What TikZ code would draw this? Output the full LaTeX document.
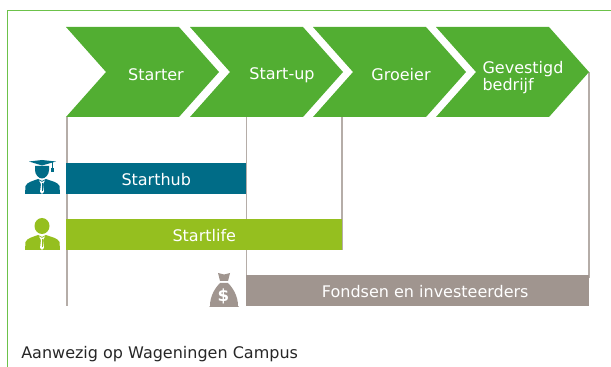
\documentclass[tikz,border=0pt]{standalone}
\usepackage{fontspec}
\setmainfont{DejaVu Sans}
\definecolor{framegreen}{HTML}{6CC24A}
\definecolor{arrowgreen}{HTML}{52AE32}
\definecolor{hubteal}{HTML}{006C87}
\definecolor{lifegreen}{HTML}{95BF1F}
\definecolor{fundgrey}{HTML}{A0958F}
\definecolor{linegrey}{HTML}{B5ADA8}
\tikzset{
  phase/.style={text=white,font=\fontsize{12}{12.75}\selectfont,align=left},
  barbox/.style={anchor=north west,inner sep=0pt,text=white,font=\fontsize{12}{12}\selectfont,text height=9.5pt,text depth=0pt},
  stem/.style={linegrey,line width=1pt}
}
\begin{document}
\begin{tikzpicture}[x=0.75pt,y=-0.75pt]
    \useasboundingbox (0,0) rectangle (611,367);
    % frame
    \draw[framegreen,line width=1.2pt] (7.5,367)--(7.5,10.5)--(611,10.5);
    % vertical lines
    \coordinate (s1) at (67,117);
    \coordinate (s2) at (246.5,117);
    \coordinate (s3) at (342,117);
    \coordinate (s4) at (589,72);
    \coordinate (e1) at (67,306);
    \coordinate (e2) at (246.5,278);
    \coordinate (e3) at (342,250);
    \coordinate (e4) at (589,278);
    \foreach \i in {1,2,3,4} \draw[stem] (s\i)--(e\i);
    % chevrons
    \foreach \x in {66,190,313,436}
      \fill[arrowgreen] (\x,27)--++(113,0)--++(40,45)--++(-40,45)--++(-113,0)--++(40,-45)--cycle;
    \node[phase] (starter) at (156,75) {Starter};
    \node[phase] (startup) at (282,75) {Start-up};
    \node[phase] (groeier) at (401,75) {Groeier};
    \node[phase] (gevestigd) at (523,78) {Gevestigd\\bedrijf};
    % bars
    \node[barbox,fill=hubteal,minimum width=135pt,minimum height=23.25pt] (starthub) at (66,163) {Starthub};
    \node[barbox,fill=lifegreen,minimum width=207pt,minimum height=23.25pt] (startlife) at (66,219) {Startlife};
    \node[barbox,fill=fundgrey,minimum width=257.25pt,minimum height=23.25pt] (fondsen) at (246,275) {\hspace*{11.25pt}Fondsen en investeerders};
    % graduate
    \fill[hubteal] (25,194)--(25.5,186)..controls (27,182) and (33,181) .. (38,179)--(42,181)--(46,179)..controls (51,181) and (58,182) .. (59.5,186)--(60,194)--cycle;
    \fill[hubteal] (35,166)--(49,166)--(49,170)..controls (49,175) and (45,178.5) .. (42,178.5)..controls (39,178.5) and (35,175) .. (35,170)--cycle;
    \fill[hubteal] (29,161.5)--(42,160)--(56,161.5)--(42,165.5)--cycle;
    \draw[hubteal,line width=0.6pt] (52,162.5)--(52,168);
    \fill[hubteal] (51,168) rectangle (53.5,172);
    \fill[white] (39,180.5)--(42,182)--(45,180.5)--(43,184)--(44,192)--(42,194)--(40,192)--(41,184)--cycle;
    \fill[hubteal] (41.5,183) rectangle (42.5,191);
    % person
    \fill[lifegreen] (25,250)--(25.5,242)..controls (27,238) and (33,237) .. (38,235)--(42,237)--(46,235)..controls (51,237) and (58,238) .. (59.5,242)--(60,250)--cycle;
    \fill[lifegreen] (42,226) ellipse [x radius=7.5,y radius=8];
    \fill[white] (39,236.5)--(42,238)--(45,236.5)--(43,240)--(44,248)--(42,250)--(40,248)--(41,240)--cycle;
    \fill[lifegreen] (41.5,239) rectangle (42.5,247);
    % money bag
    \fill[fundgrey] (218,273)--(224,274.5)--(230,273)--(228,281)--(220,281)--cycle;
    \fill[fundgrey] (220,283)--(228,283)..controls (233,288) and (238,296) .. (238,306)--(239,307)--(209,307)--(210,306)..controls (210,296) and (215,288) .. (220,283)--cycle;
    \node[inner sep=0pt,text=white,font=\fontsize{12.5}{14}\selectfont\bfseries] (dollar) at (223.5,296.5) {\$};
    % caption
    \node[anchor=west,inner sep=0pt,text=black!85,font=\fontsize{12}{12}\selectfont] (caption) at (21,354.5) {Aanwezig op Wageningen Campus};
\end{tikzpicture}
\end{document}
